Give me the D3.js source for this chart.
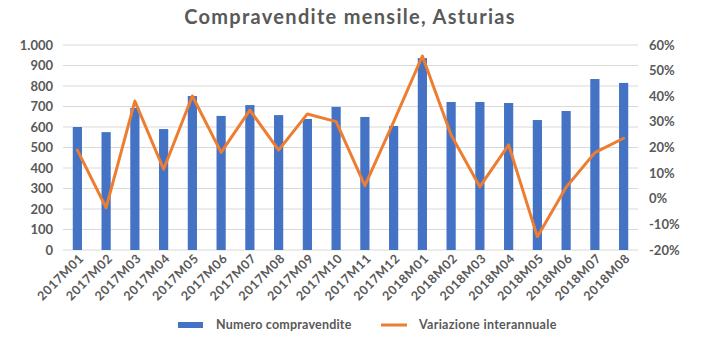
<!DOCTYPE html>
<html>
<head>
<meta charset="utf-8">
<script src="https://cdn.jsdelivr.net/npm/d3@7"></script>
<style>
  body { margin: 0; background: #fff; }
  svg text { font-family: "Lato", "Open Sans", sans-serif; fill: #595959; }
</style>
</head>
<body>
<svg id="chart" width="702" height="346"></svg>
<script>
const months = ["2017M01","2017M02","2017M03","2017M04","2017M05","2017M06","2017M07","2017M08","2017M09","2017M10",
                "2017M11","2017M12","2018M01","2018M02","2018M03","2018M04","2018M05","2018M06","2018M07","2018M08"];
const sales = [600, 575, 693, 590, 751, 654, 707, 658, 639, 698,
               649, 605, 936, 722, 722, 717, 634, 678, 834, 815];
const yoyChange = [19.0, -3.5, 38.1, 11.5, 40.1, 18.1, 34.6, 19.0, 33.1, 30.1,
                   5.1, 30.0, 55.7, 24.9, 4.7, 21.0, -14.8, 4.5, 18.0, 23.6];
const leftTicks = [0,100,200,300,400,500,600,700,800,900,1000];
const rightTicks = [-20,-10,0,10,20,30,40,50,60];
const seriesNames = ["Numero compravendite", "Variazione interannuale"];

const svg = d3.select("#chart");
const m = { left: 63, right: 638, top: 45, bottom: 250 };

const x = d3.scaleBand().domain(months).range([m.left, m.right]).paddingInner(0.68).paddingOuter(0.34);
const yL = d3.scaleLinear().domain([0, 1000]).range([m.bottom, m.top]);
const yR = d3.scaleLinear().domain([-20, 60]).range([m.bottom, m.top]);

// gridlines
svg.append("g").selectAll("line").data(leftTicks).join("line")
  .attr("x1", m.left).attr("x2", m.right)
  .attr("y1", d => yL(d)).attr("y2", d => yL(d))
  .attr("stroke", "#d9d9d9").attr("stroke-width", 1);

// left axis labels
const fmt = d => d >= 1000 ? d3.format(",")(d).replace(",", ".") : String(d);
svg.append("g").selectAll("text").data(leftTicks).join("text")
  .attr("x", 53).attr("y", d => yL(d)).attr("dy", "0.35em")
  .attr("text-anchor", "end").attr("font-size", 13).attr("font-weight", "bold")
  .text(fmt);

// right axis labels
svg.append("g").selectAll("text").data(rightTicks).join("text")
  .attr("x", 649).attr("y", d => yR(d)).attr("dy", "0.35em")
  .attr("text-anchor", "start").attr("font-size", 13).attr("font-weight", "bold")
  .text(d => d + "%");

// bars
svg.append("g").selectAll("rect").data(months).join("rect")
  .attr("x", d => x(d)).attr("width", x.bandwidth())
  .attr("y", (d, i) => yL(sales[i])).attr("height", (d, i) => yL(0) - yL(sales[i]))
  .attr("fill", "#4472C4");

// line
const line = d3.line().x((d, i) => x(months[i]) + x.bandwidth() / 2).y(d => yR(d));
svg.append("path").datum(yoyChange).attr("d", line)
  .attr("fill", "none").attr("stroke", "#ED7D31").attr("stroke-width", 3)
  .attr("stroke-linejoin", "round").attr("stroke-linecap", "round");

// x labels
svg.append("g").selectAll("text").data(months).join("text")
  .attr("transform", d => `translate(${x(d) + x.bandwidth() / 2 + 4},${m.bottom + 6}) rotate(-45)`)
  .attr("text-anchor", "end").attr("dy", "0.35em")
  .attr("font-size", 12.5).attr("font-weight", "bold").attr("letter-spacing", 0.6)
  .text(d => d);

// title
svg.append("text").attr("x", 350).attr("y", 24).attr("text-anchor", "middle")
  .attr("font-size", 20).attr("font-weight", "bold").attr("letter-spacing", 1.3)
  .text("Compravendite mensile, Asturias");

// legend
const lg = svg.append("g");
lg.append("rect").attr("x", 178).attr("y", 322).attr("width", 25).attr("height", 6).attr("fill", "#4472C4");
lg.append("text").attr("x", 216).attr("y", 325).attr("dy", "0.35em").attr("font-size", 12.5).attr("font-weight", "bold")
  .attr("letter-spacing", 0.2).text(seriesNames[0]);
lg.append("line").attr("x1", 381).attr("x2", 407).attr("y1", 325).attr("y2", 325).attr("stroke", "#ED7D31").attr("stroke-width", 3);
lg.append("text").attr("x", 419).attr("y", 325).attr("dy", "0.35em").attr("font-size", 12.5).attr("font-weight", "bold")
  .attr("letter-spacing", 0.3).text(seriesNames[1]);
</script>
</body>
</html>
